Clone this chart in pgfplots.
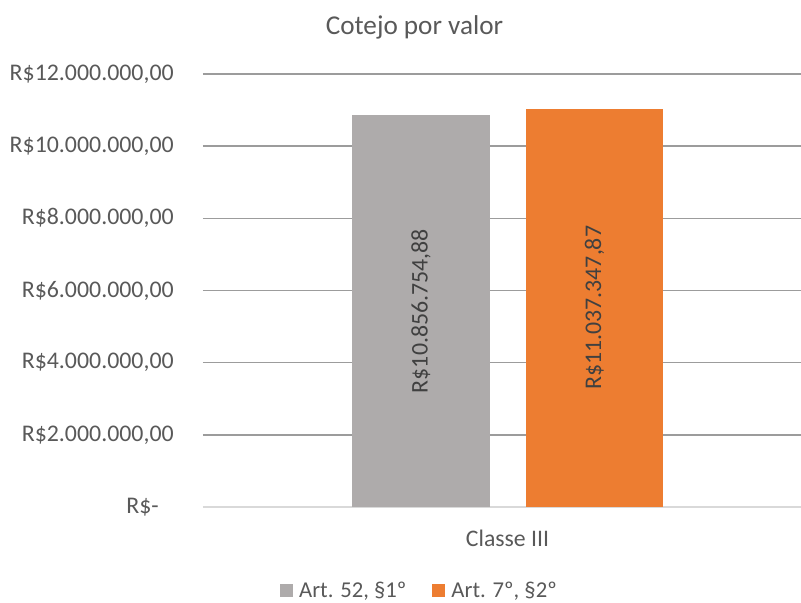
\documentclass[border=0pt]{standalone}
\usepackage{pgfplots}
\pgfplotsset{compat=1.18}
\usepackage{fontspec}
\setmainfont{Carlito}
\definecolor{barGray}{HTML}{AEABAB}
\definecolor{barOrange}{HTML}{ED7D31}
\definecolor{txt}{HTML}{595959}
\definecolor{lbl}{HTML}{404040}
\definecolor{gridc}{HTML}{9C9C9C}
\definecolor{basec}{HTML}{D9D9D9}
\begin{document}
\begin{tikzpicture}
\useasboundingbox (0,0) rectangle (600.75pt,452.25pt);
\begin{axis}[
  at={(152.25pt,72pt)}, anchor=south west,
  scale only axis, width=448.5pt, height=324.75pt,
  xmin=203, xmax=801, ymin=0, ymax=12000000,
  axis x line*=bottom, axis y line*=left,
  x axis line style={draw=basec, line width=1.2pt, -},
  y axis line style={draw=none},
  xtick={507.5}, xticklabels={Classe III},
  xtick style={draw=none},
  xticklabel style={anchor=center, inner sep=0pt, yshift=-23.25pt, font=\fontsize{17.8}{21}\selectfont, text=txt},
  ytick={2000000,4000000,6000000,8000000,10000000,12000000},
  yticklabels={{R\$2.000.000,00},{R\$4.000.000,00},{R\$6.000.000,00},{R\$8.000.000,00},{R\$10.000.000,00},{R\$12.000.000,00}},
  scaled y ticks=false,
  ymajorgrids, major grid style={draw=gridc, line width=1.2pt},
  ytick style={draw=none},
  extra y ticks={0}, extra y tick labels={{R\$-\kern11.25pt}},
  extra y tick style={grid=none},
  yticklabel style={anchor=east, inner sep=0pt, xshift=-21.75pt, font=\fontsize{17.9}{21}\selectfont, text=txt},
  title={Cotejo por valor},
  title style={at={(0.3537,1.09)}, anchor=center, inner sep=0pt, font=\fontsize{20.4}{24}\selectfont, text=txt},
  legend columns=2,
  legend style={at={(0.3604,-0.194)}, anchor=center, draw=none, fill=none,
    font=\fontsize{17}{20}\selectfont, text=txt,
    nodes={inner sep=0pt},
    /tikz/every odd column/.append style={column sep=4.5pt},
    /tikz/every even column/.append style={column sep=19.5pt}},
  legend image code/.code={\fill[#1] (0pt,-4.875pt) rectangle (9.75pt,4.875pt);},
  clip=false,
]
\addplot[ybar, bar width=138, bar shift=0pt, fill=barGray, draw=none] coordinates {(421,10856754.88)};
\addlegendentry{Art. 52, §1º}
\addplot[ybar, bar width=137, bar shift=0pt, fill=barOrange, draw=none] coordinates {(594.5,11037347.87)};
\addlegendentry{Art. 7º, §2º}
\addplot[forget plot, only marks, mark=none, point meta=explicit symbolic,
  nodes near coords,
  every node near coord/.style={rotate=90, anchor=center, inner sep=0pt, font=\fontsize{17.9}{21}\selectfont, text=lbl}]
  coordinates {(421,5428377.44) [R\$10.856.754,88] (594.5,5518673.94) [R\$11.037.347,87]};
\end{axis}
\end{tikzpicture}
\end{document}
